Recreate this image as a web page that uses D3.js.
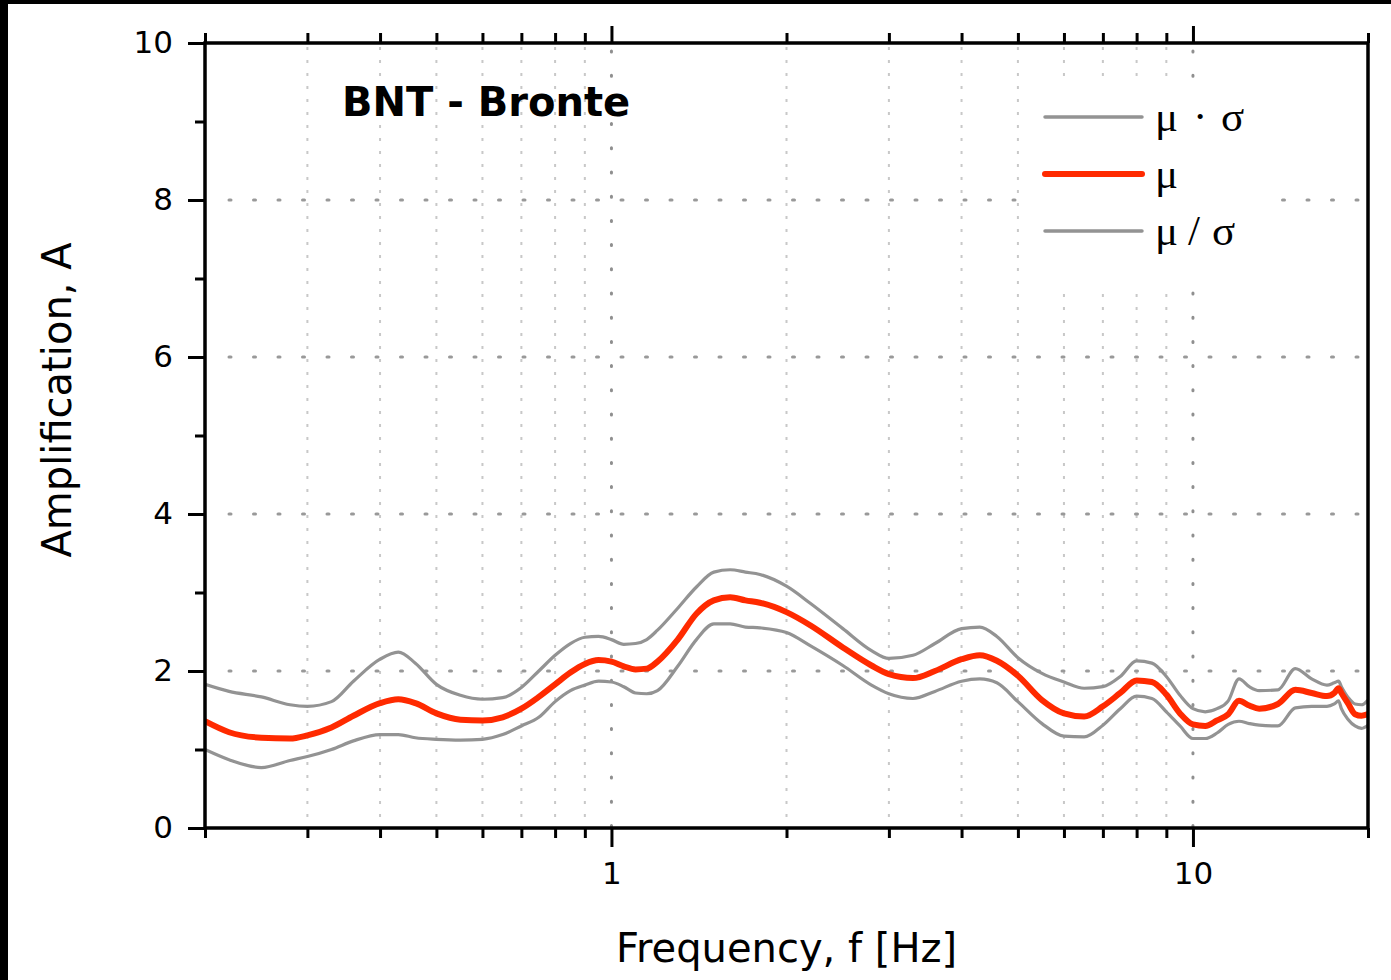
<!DOCTYPE html>
<html>
<head>
<meta charset="utf-8">
<script src="https://cdn.jsdelivr.net/npm/d3@7"></script>
<style>
  html, body { margin: 0; padding: 0; background: #fff; }
  svg { display: block; }
</style>
</head>
<body>
<svg id="chart" width="1391" height="980"></svg>
<script>
// Site amplification spectrum for station BNT (Bronte)
const stationTitle = "BNT - Bronte";

const freq = [0.2, 0.22, 0.25, 0.28, 0.3, 0.33, 0.36, 0.4, 0.43, 0.46, 0.5, 0.55, 0.6, 0.65, 0.7, 0.75, 0.8, 0.85, 0.9, 0.95,
  1.0, 1.05, 1.1, 1.15, 1.2, 1.3, 1.4, 1.5, 1.6, 1.7, 1.8, 2.0, 2.2, 2.5, 2.8, 3.0, 3.3, 3.6, 4.0, 4.3, 4.6,
  5.0, 5.5, 6.0, 6.5, 7.0, 7.5, 8.0, 8.5, 9.0, 9.5, 10, 10.5, 11, 11.5, 12, 12.5, 13, 14, 15, 16, 17, 17.5, 17.8, 18, 18.5, 19, 19.5, 20];

// mean amplification (mu)
const ampMean = [1.36, 1.22, 1.15, 1.14, 1.18, 1.28, 1.43, 1.59, 1.64, 1.59, 1.46, 1.38, 1.37, 1.41, 1.52, 1.67, 1.83, 1.98, 2.09, 2.14,
  2.12, 2.06, 2.02, 2.03, 2.12, 2.40, 2.73, 2.90, 2.94, 2.90, 2.87, 2.75, 2.58, 2.30, 2.07, 1.96, 1.91, 2.00, 2.15, 2.20, 2.13,
  1.94, 1.63, 1.46, 1.42, 1.55, 1.72, 1.88, 1.86, 1.70, 1.46, 1.32, 1.30, 1.37, 1.45, 1.62, 1.56, 1.52, 1.58, 1.76, 1.72, 1.68, 1.72, 1.78, 1.72, 1.58, 1.45, 1.43, 1.45];

// mu * sigma
const ampUpper = [1.83, 1.74, 1.67, 1.57, 1.55, 1.61, 1.87, 2.15, 2.24, 2.10, 1.83, 1.69, 1.64, 1.66, 1.79, 2.00, 2.20, 2.35, 2.43, 2.44,
  2.40, 2.34, 2.35, 2.40, 2.52, 2.80, 3.07, 3.26, 3.29, 3.26, 3.23, 3.08, 2.86, 2.54, 2.26, 2.16, 2.20, 2.35, 2.54, 2.56, 2.44,
  2.17, 1.97, 1.86, 1.78, 1.80, 1.93, 2.13, 2.10, 1.93, 1.69, 1.52, 1.48, 1.52, 1.62, 1.90, 1.80, 1.75, 1.76, 2.03, 1.90, 1.82, 1.85, 1.87, 1.80, 1.66, 1.58, 1.57, 1.63];

// mu / sigma
const ampLower = [1.00, 0.87, 0.77, 0.86, 0.91, 1.00, 1.11, 1.19, 1.19, 1.15, 1.13, 1.12, 1.13, 1.19, 1.30, 1.41, 1.61, 1.75, 1.82, 1.87,
  1.86, 1.80, 1.72, 1.71, 1.75, 2.06, 2.40, 2.60, 2.60, 2.56, 2.55, 2.49, 2.32, 2.07, 1.82, 1.71, 1.65, 1.74, 1.87, 1.90, 1.85,
  1.61, 1.33, 1.17, 1.16, 1.31, 1.52, 1.68, 1.65, 1.48, 1.30, 1.14, 1.14, 1.21, 1.32, 1.36, 1.33, 1.31, 1.30, 1.53, 1.55, 1.55, 1.58, 1.62, 1.52, 1.38, 1.30, 1.27, 1.31];

const xMajorTicks = [1, 10];
const xMinorTicks = [0.2, 0.3, 0.4, 0.5, 0.6, 0.7, 0.8, 0.9, 2, 3, 4, 5, 6, 7, 8, 9, 20];
const yMajorTicks = [0, 2, 4, 6, 8, 10];
const yMinorTicks = [1, 3, 5, 7, 9];

// legend entries, each split into its symbols
const legendLabels = [["\u03bc", "\u00b7", "\u03c3"], ["\u03bc"], ["\u03bc", "/", "\u03c3"]];

const W = 1391, H = 980;
const plot = { left: 205, top: 43, right: 1368, bottom: 828 };
const RED = "#ff2a00", GREY = "#939393";
const SANS = "'DejaVu Sans', Verdana, sans-serif";
const SERIF = "'Liberation Serif', 'Times New Roman', serif";

const svg = d3.select("#chart");

const x = d3.scaleLog().domain([0.2, 20]).range([plot.left, plot.right]);
const y = d3.scaleLinear().domain([0, 10]).range([plot.bottom, plot.top]);

svg.append("rect").attr("width", W).attr("height", H).attr("fill", "#fff");

// grid
const grid = svg.append("g");
grid.selectAll("line.vminor")
  .data(xMinorTicks.filter(d => d > 0.2 && d < 20))
  .join("line")
  .attr("x1", d => x(d)).attr("x2", d => x(d))
  .attr("y1", plot.top + 4).attr("y2", plot.bottom)
  .attr("stroke", "#c8c8c8").attr("stroke-width", 2)
  .attr("stroke-dasharray", "3 10");
grid.selectAll("line.vmajor")
  .data(xMajorTicks)
  .join("line")
  .attr("x1", d => x(d)).attr("x2", d => x(d))
  .attr("y1", plot.top + 8).attr("y2", plot.bottom)
  .attr("stroke", "#8f8f8f").attr("stroke-width", 3)
  .attr("stroke-linecap", "round")
  .attr("stroke-dasharray", "1 23.2");
grid.selectAll("line.hmajor")
  .data(yMajorTicks.filter(d => d > 0 && d < 10))
  .join("line")
  .attr("x1", plot.left + 24).attr("x2", plot.right)
  .attr("y1", d => y(d)).attr("y2", d => y(d))
  .attr("stroke", "#999").attr("stroke-width", 3)
  .attr("stroke-linecap", "round")
  .attr("stroke-dasharray", "2 22.5");

// legend backdrop
svg.append("rect")
  .attr("x", 1022).attr("y", 78).attr("width", 243).attr("height", 210)
  .attr("fill", "#fff");

// curves
svg.append("clipPath").attr("id", "plotClip")
  .append("rect").attr("x", plot.left).attr("y", plot.top)
  .attr("width", plot.right - plot.left).attr("height", plot.bottom - plot.top);

const line = d3.line().x(d => x(d[0])).y(d => y(d[1])).curve(d3.curveMonotoneX);
const curves = svg.append("g").attr("clip-path", "url(#plotClip)");
const series = [
  { values: ampUpper, color: GREY, width: 3.2 },
  { values: ampLower, color: GREY, width: 3.2 },
  { values: ampMean, color: RED, width: 6 }
];
series.forEach(s => {
  curves.append("path")
    .datum(freq.map((f, i) => [f, s.values[i]]))
    .attr("d", line)
    .attr("fill", "none")
    .attr("stroke", s.color)
    .attr("stroke-width", s.width)
    .attr("stroke-linejoin", "round");
});

// axes
function styleAxis(g, fontSize) {
  g.select(".domain").remove();
  g.selectAll(".tick line").attr("stroke", "#000").attr("stroke-width", 3);
  g.selectAll(".tick text").attr("fill", "#000")
    .style("font-family", SANS).style("font-size", fontSize + "px");
}
const LBL = 31;

svg.append("g").attr("transform", `translate(0,${plot.bottom})`)
  .call(d3.axisBottom(x).tickValues(xMinorTicks).tickSize(10).tickFormat(""))
  .call(g => styleAxis(g, LBL));
svg.append("g").attr("transform", `translate(0,${plot.bottom})`)
  .call(d3.axisBottom(x).tickValues(xMajorTicks).tickSize(19).tickPadding(15).tickFormat(d3.format("d")))
  .call(g => styleAxis(g, LBL));
svg.append("g").attr("transform", `translate(0,${plot.top})`)
  .call(d3.axisTop(x).tickValues(xMinorTicks).tickSize(10).tickFormat(""))
  .call(g => styleAxis(g, LBL));
svg.append("g").attr("transform", `translate(0,${plot.top})`)
  .call(d3.axisTop(x).tickValues(xMajorTicks).tickSize(17).tickFormat(""))
  .call(g => styleAxis(g, LBL));
svg.append("g").attr("transform", `translate(${plot.left},0)`)
  .call(d3.axisLeft(y).tickValues(yMinorTicks).tickSize(10).tickFormat(""))
  .call(g => styleAxis(g, LBL));
svg.append("g").attr("transform", `translate(${plot.left},0)`)
  .call(d3.axisLeft(y).tickValues(yMajorTicks).tickSize(17).tickPadding(15).tickFormat(d3.format("d")))
  .call(g => styleAxis(g, LBL));

// frame
svg.append("rect")
  .attr("x", plot.left).attr("y", plot.top)
  .attr("width", plot.right - plot.left).attr("height", plot.bottom - plot.top)
  .attr("fill", "none").attr("stroke", "#000").attr("stroke-width", 3.5);

// axis titles
svg.append("text")
  .attr("x", (plot.left + plot.right) / 2).attr("y", 962)
  .attr("text-anchor", "middle")
  .style("font-family", SANS).style("font-size", "40px")
  .text("Frequency, f [Hz]");
svg.append("text")
  .attr("transform", "translate(71,400) rotate(-90)")
  .attr("text-anchor", "middle")
  .style("font-family", SANS).style("font-size", "40px")
  .text("Amplification, A");

// station name
svg.append("text")
  .attr("x", 342).attr("y", 116)
  .style("font-family", SANS).style("font-size", "40px").style("font-weight", "bold")
  .text(stationTitle);

// legend
const legendItems = [
  { parts: legendLabels[0], color: GREY, width: 3.5, y: 117, baseline: 131, xs: [1155, 1193, 1221] },
  { parts: legendLabels[1], color: RED, width: 6, y: 174, baseline: 188, xs: [1155] },
  { parts: legendLabels[2], color: GREY, width: 3.5, y: 231, baseline: 245, xs: [1155, 1188, 1212] }
];
const legend = svg.append("g");
legendItems.forEach(it => {
  legend.append("line")
    .attr("x1", 1045).attr("x2", 1142)
    .attr("y1", it.y).attr("y2", it.y)
    .attr("stroke", it.color).attr("stroke-width", it.width)
    .attr("stroke-linecap", "round");
  const t = legend.append("text")
    .attr("y", it.baseline)
    .style("font-family", SERIF)
    .style("font-size", "43px");
  it.parts.forEach((p, i) => t.append("tspan").attr("x", it.xs[i]).text(p));
});

// outer border strips
svg.append("rect").attr("x", 0).attr("y", 0).attr("width", 8).attr("height", H).attr("fill", "#000");
svg.append("rect").attr("x", 0).attr("y", 0).attr("width", W).attr("height", 4).attr("fill", "#000");
</script>
</body>
</html>
